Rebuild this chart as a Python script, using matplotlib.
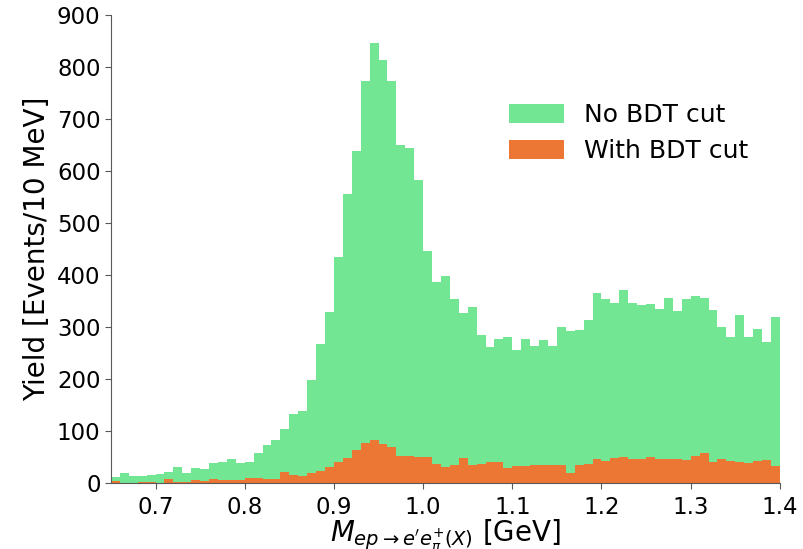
import numpy as np
import matplotlib
matplotlib.use('Agg')
import matplotlib.pyplot as plt

# bin edges: 10 MeV bins from 0.65 to 1.40 GeV
edges = np.round(np.arange(0.65, 1.405, 0.01), 3)
centers = 0.5 * (edges[:-1] + edges[1:])

# yields
no_cut = [11, 19, 13, 13, 15, 18, 21, 31, 19, 29, 28,
          38, 41, 46, 38, 40, 58, 73, 82, 104, 133, 139,
          199, 268, 328, 434, 555, 638, 772, 845, 813, 772, 650, 644, 583, 447, 387, 399, 354,
          326, 338, 284, 262, 277, 280, 256, 277, 263, 276, 263,
          300, 292, 295, 313, 365, 354, 346, 372, 346, 343, 344, 335, 356, 331, 354, 359,
          356, 333, 300, 280, 323, 280, 297, 272, 320]
with_cut = [4, 1, 0, 2, 3, 1, 8, 3, 3, 6, 4,
            7, 6, 6, 6, 10, 10, 8, 8, 21, 16, 14,
            19, 24, 31, 40, 49, 63, 77, 82, 76, 70, 53, 53, 51, 50, 37, 31, 35,
            48, 34, 36, 40, 41, 29, 33, 32, 34, 34, 34,
            34, 20, 35, 37, 47, 42, 48, 51, 47, 46, 50, 47, 47, 47, 44, 52,
            58, 40, 46, 43, 41, 38, 42, 44, 33]

xticks = [0.7, 0.8, 0.9, 1.0, 1.1, 1.2, 1.3, 1.4]
yticks = list(range(0, 901, 100))

green = '#72E692'
orange = '#EC7634'

fig = plt.figure(figsize=(8.04, 5.49), dpi=100)
ax = fig.add_axes([0.138, 0.12, 0.832, 0.853])

ax.hist(centers, bins=edges, weights=no_cut, histtype='stepfilled',
        color=green, label='No BDT cut')
ax.hist(centers, bins=edges, weights=with_cut, histtype='stepfilled',
        color=orange, label='With BDT cut')

ax.set_xlim(0.65, 1.4)
ax.set_ylim(0, 900)
ax.set_xticks(xticks)
ax.set_xticklabels(['%.1f' % t for t in xticks])
ax.set_yticks(yticks)
ax.tick_params(labelsize=16.5, length=4, color='0.35')
ax.tick_params(axis='x', pad=5)

for s in ['top', 'right']:
    ax.spines[s].set_visible(False)
for s in ['left', 'bottom']:
    ax.spines[s].set_color('0.35')

ax.set_xlabel(r"$M_{ep\rightarrow e^{\prime}e_{\pi}^{+}(X)}$ [GeV]", fontsize=20, labelpad=-1)
ax.set_ylabel('Yield [Events/10 MeV]', fontsize=20)

ax.legend(loc='upper right', bbox_to_anchor=(0.986, 0.86), frameon=False,
          fontsize=18, handlelength=2.2, handleheight=0.8)

fig.savefig('out.png', dpi=100)
